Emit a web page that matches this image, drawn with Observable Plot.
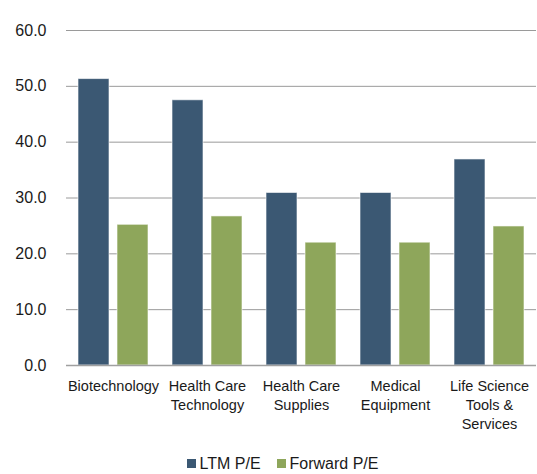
<!DOCTYPE html>
<html><head><meta charset="utf-8">
<script src="https://cdn.jsdelivr.net/npm/d3@7"></script>
<script src="https://cdn.jsdelivr.net/npm/@observablehq/plot@0.6"></script>
<style>
body{margin:0;background:#fff;font-family:"Liberation Sans",Arial,sans-serif;}
#legend{display:flex;justify-content:center;padding-left:44px;}
#legend svg{margin-right:4px !important;}
</style>
</head><body><div id="chart"></div><div id="legend"></div><script>
const categories = ["Biotechnology", "Health Care\nTechnology", "Health Care\nSupplies", "Medical\nEquipment", "Life Science\nTools &\nServices"];
const series = ["LTM P/E", "Forward P/E"];
const ltm = [51.3, 47.5, 30.9, 30.9, 36.9];
const forward = [25.2, 26.7, 22.0, 22.0, 24.9];
const yTicks = [0, 10, 20, 30, 40, 50, 60];
const colors = ["#3B5873", "#8EA65B"];

const data = categories.flatMap((c, i) => [
  {cat: c, series: series[0], value: ltm[i]},
  {cat: c, series: series[1], value: forward[i]}
]);

const font = '"Liberation Sans", Arial, sans-serif';
const plot = Plot.plot({
  width: 537, height: 447,
  marginLeft: 64, marginRight: 0, marginTop: 30, marginBottom: 82,
  style: {fontFamily: font, fontSize: "14px", color: "#1a1a1a", background: "#fff"},
  fx: {domain: categories, padding: 0, label: null, axis: null},
  x: {domain: series, paddingInner: 0.2, paddingOuter: 0.3, axis: null},
  y: {domain: [0, 60], label: null},
  color: {domain: series, range: colors},
  marks: [
    Plot.gridY(yTicks, {stroke: "#9a9a9a", strokeOpacity: 1, strokeWidth: 1}),
    Plot.barY(data, {fx: "cat", x: "series", y: "value", fill: "series", stroke: "#ffffff", strokeOpacity: 0.6, strokeWidth: 1}),
    Plot.ruleY([0], {stroke: "#a0a0a0", strokeWidth: 1.5}),
    Plot.axisY(yTicks, {tickSize: 0, tickPadding: 20, tickFormat: d3.format(".1f"), fontSize: 16, label: null}),
    Plot.axisFx({anchor: "bottom", tickSize: 0, tickPadding: 12, lineHeight: 1.3, fontSize: 14.5, label: null})
  ]
});
document.getElementById("chart").appendChild(plot);

const legend = Plot.legend({
  color: {domain: series, range: colors},
  swatchSize: 9,
  style: {fontFamily: font, fontSize: "16px", color: "#1a1a1a"}
});
document.getElementById("legend").appendChild(legend);
</script></body></html>
